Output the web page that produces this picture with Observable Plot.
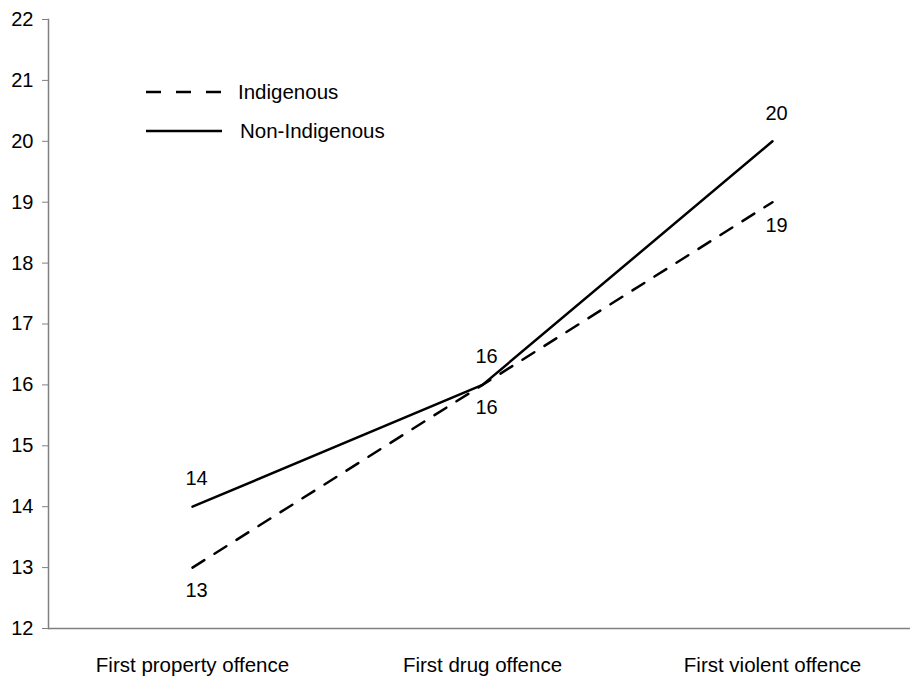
<!DOCTYPE html>
<html>
<head>
<meta charset="utf-8">
<script src="https://cdn.jsdelivr.net/npm/d3@7"></script>
<script src="https://cdn.jsdelivr.net/npm/@observablehq/plot@0.6"></script>
<style>
  html, body { margin: 0; padding: 0; background: #fff; }
  #wrap { position: relative; width: 910px; height: 677px; font-family: "Liberation Sans", Arial, sans-serif; }
  .leg { position: absolute; left: 146px; font-size: 20.5px; color: #000; display: flex; align-items: center; }
  .leg svg { margin-right: 16px; }
</style>
</head>
<body>
<div id="wrap">
  <div id="chart"></div>
  <div class="leg" style="top:80px;"><svg width="76" height="6"><line x1="0" y1="3" x2="76" y2="3" stroke="#000" stroke-width="2.5" stroke-dasharray="15,15"/></svg><span>Indigenous</span></div>
  <div class="leg" style="top:119px;"><svg width="76" height="6"><line x1="0" y1="3" x2="76" y2="3" stroke="#000" stroke-width="2.5"/></svg><span style="margin-left:2px">Non-Indigenous</span></div>
</div>
<script>
const categories = ["First property offence", "First drug offence", "First violent offence"];
const indigenous = [13, 16, 19];
const nonIndigenous = [14, 16, 20];
const yTicks = [12, 13, 14, 15, 16, 17, 18, 19, 20, 21, 22];

const data = [
  ...categories.map((c, i) => ({cat: c, value: indigenous[i], series: "Indigenous"})),
  ...categories.map((c, i) => ({cat: c, value: nonIndigenous[i], series: "Non-Indigenous"}))
];
const ind = data.filter(d => d.series === "Indigenous");
const non = data.filter(d => d.series === "Non-Indigenous");

const chart = Plot.plot({
  width: 910,
  height: 677,
  marginTop: 19,
  marginBottom: 49,
  marginLeft: 48,
  marginRight: 0,
  style: {fontFamily: "'Liberation Sans', Arial, sans-serif", fontSize: "20px", background: "#fff", color: "#000"},
  x: {type: "point", domain: categories, range: [191, 772], padding: 0, label: null},
  y: {domain: [12, 22], label: null},
  marks: [
    Plot.axisY({ticks: yTicks, tickSize: 6, tickPadding: 9, stroke: "#808080", fill: "#000", fontSize: 20, label: null}),
    Plot.axisX({tickSize: 0, tickPadding: 29, fill: "#000", fontSize: 20.5, label: null}),
    Plot.frame({anchor: "left", stroke: "#808080", strokeWidth: 1.5}),
    Plot.ruleY([12], {stroke: "#808080", strokeWidth: 1.5}),
    Plot.line(ind, {x: "cat", y: "value", stroke: "#000", strokeWidth: 2.5, strokeDasharray: "14,12"}),
    Plot.line(non, {x: "cat", y: "value", stroke: "#000", strokeWidth: 2.5}),
    Plot.text(non, {x: "cat", y: "value", text: d => String(d.value), dy: -28, dx: 4, fontSize: 20, fill: "#000"}),
    Plot.text(ind, {x: "cat", y: "value", text: d => String(d.value), dy: 23, dx: 4, fontSize: 20, fill: "#000"})
  ]
});
document.getElementById("chart").appendChild(chart);
</script>
</body>
</html>
